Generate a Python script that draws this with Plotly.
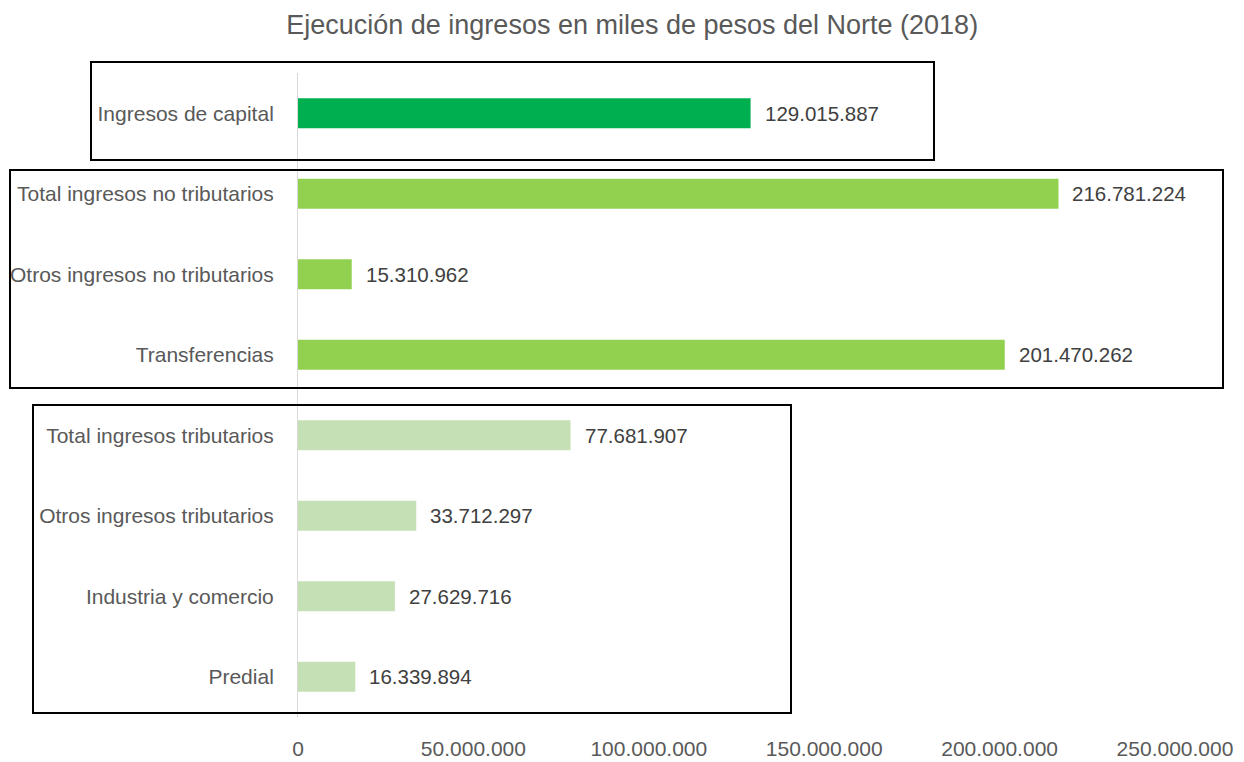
import plotly.graph_objects as go

# Categories, top to bottom
categorias = [
    "Ingresos de capital",
    "Total ingresos no tributarios",
    "Otros ingresos no tributarios",
    "Transferencias",
    "Total ingresos tributarios",
    "Otros ingresos tributarios",
    "Industria y comercio",
    "Predial",
]
valores = [
    129015887,
    216781224,
    15310962,
    201470262,
    77681907,
    33712297,
    27629716,
    16339894,
]
colores = [
    "#00B050",
    "#92D050", "#92D050", "#92D050",
    "#C5E0B4", "#C5E0B4", "#C5E0B4", "#C5E0B4",
]
tick_vals = [0, 50000000, 100000000, 150000000, 200000000, 250000000]

FONT = "Liberation Sans Narrow, Arial Narrow, Liberation Sans, Arial, sans-serif"
# page body has an 8px margin, so the figure is drawn 8px in from the top-left
OFF = 8
W, H = 1244 - OFF, 762 - OFF
ML, MR, MT, MB = 290, 69, 65, 45
PW, PH = W - ML - MR, H - MT - MB


def px_x(x):
    return (x - OFF - ML) / PW


def px_y(y):
    return (H - MB - (y - OFF)) / PH


fig = go.Figure(go.Bar(
    x=valores,
    y=categorias,
    orientation="h",
    width=0.37,
    marker=dict(color=colores, line=dict(width=0)),
    hoverinfo="x+y",
))

# data labels
for cat, val in zip(categorias, valores):
    fig.add_annotation(
        x=val, y=cat, text=f"{val:,}".replace(",", "."),
        showarrow=False, xanchor="left", xshift=12,
        font=dict(family=FONT, size=20.5, color="#404040"),
    )

# group boxes (pixel positions of the reference)
boxes = [(91, 62, 934, 160), (10, 170, 1223, 388), (33, 405, 791, 713)]
for x0, y0, x1, y1 in boxes:
    fig.add_shape(
        type="rect", xref="paper", yref="paper",
        x0=px_x(x0), x1=px_x(x1), y0=px_y(y1), y1=px_y(y0),
        line=dict(color="black", width=2), fillcolor="rgba(0,0,0,0)",
        layer="above",
    )

fig.update_layout(
    title=dict(
        text="Ejecución de ingresos en miles de pesos del Norte (2018)",
        x=0.505, xanchor="center", y=1 - 17 / H, yanchor="middle",
        font=dict(family=FONT, size=27, color="#595959"),
    ),
    width=W, height=H,
    margin=dict(l=ML, r=MR, t=MT, b=MB, autoexpand=False),
    paper_bgcolor="white",
    plot_bgcolor="white",
    separators=",.",
    showlegend=False,
    font=dict(family=FONT, color="#595959"),
)
fig.update_xaxes(
    range=[0, 250000000],
    tickvals=tick_vals,
    tickformat=",d",
    automargin=False,
    showgrid=False, zeroline=False, showline=False,
    ticklabelstandoff=17,
    tickfont=dict(family=FONT, size=21, color="#595959"),
)
fig.update_yaxes(
    autorange="reversed",
    automargin=False,
    showgrid=False, zeroline=False,
    showline=True, linecolor="#D9D9D9", linewidth=1,
    ticklabelstandoff=19,
    tickfont=dict(family=FONT, size=21, color="#595959"),
)

fig.write_html("out.html")
